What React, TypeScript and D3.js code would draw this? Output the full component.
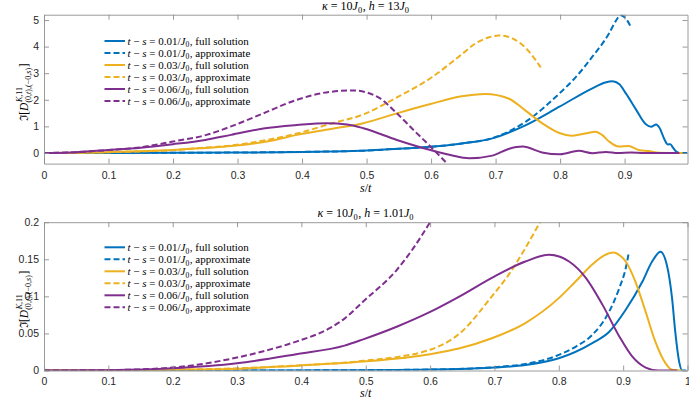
import React, { useEffect, useRef } from 'react';
import * as d3 from 'd3';

type Pt = [number, number];
type Seg = [string, boolean];
type Run = { seg: Seg[]; sup?: Seg[]; sub?: Seg[] };

// kappa = 10 J0, h = 13 J0  (s/t, Im D)
const topFull001: Pt[] = [
  [0, 0], [0.1, 0.002], [0.2, 0.006], [0.3, 0.016], [0.4, 0.04], [0.5, 0.09], [0.55, 0.16],
  [0.6, 0.23], [0.645, 0.35], [0.695, 0.55], [0.747, 1.05], [0.799, 1.74], [0.85, 2.43],
  [0.87, 2.65], [0.881, 2.7], [0.892, 2.58], [0.902, 2.24], [0.918, 1.62], [0.933, 1.08],
  [0.941, 0.99], [0.949, 1.07], [0.954, 0.95], [0.962, 0.5], [0.967, 0.32], [0.971, 0.33],
  [0.975, 0.2], [0.98, 0.05], [0.985, 0], [0.9975, 0],
];
const topApprox001: Pt[] = [
  [0, 0], [0.1, 0.002], [0.2, 0.006], [0.3, 0.016], [0.4, 0.04], [0.5, 0.09], [0.55, 0.16],
  [0.6, 0.23], [0.645, 0.35], [0.7, 0.6], [0.747, 1.18], [0.799, 2.24], [0.825, 2.87],
  [0.85, 3.62], [0.876, 4.5], [0.886, 4.95], [0.894, 5.18], [0.9, 5.1], [0.905, 4.95], [0.909, 4.77],
];
const topFull003: Pt[] = [
  [0, 0], [0.1, 0.03], [0.2, 0.11], [0.25, 0.19], [0.29, 0.26], [0.35, 0.45], [0.392, 0.68],
  [0.444, 0.9], [0.495, 1.12], [0.547, 1.49], [0.599, 1.84], [0.645, 2.12], [0.684, 2.22],
  [0.72, 2.05], [0.746, 1.6], [0.772, 1.12], [0.798, 0.76], [0.819, 0.65], [0.84, 0.74],
  [0.855, 0.8], [0.865, 0.68], [0.876, 0.43], [0.891, 0.24], [0.906, 0.26], [0.922, 0.11],
  [0.937, 0.07], [0.953, 0.01], [0.99, 0],
];
const topApprox003: Pt[] = [
  [0, 0], [0.1, 0.03], [0.2, 0.11], [0.25, 0.2], [0.29, 0.28], [0.35, 0.51], [0.4, 0.78],
  [0.444, 1.1], [0.495, 1.45], [0.547, 2.09], [0.599, 2.81], [0.645, 3.66], [0.669, 4.12],
  [0.69, 4.35], [0.705, 4.42], [0.726, 4.31], [0.747, 3.94], [0.77, 3.22],
];
const topFull006: Pt[] = [
  [0, 0], [0.05, 0.03], [0.1, 0.11], [0.15, 0.2], [0.2, 0.33], [0.25, 0.49], [0.29, 0.68],
  [0.34, 0.92], [0.392, 1.05], [0.438, 1.12], [0.47, 1.07], [0.495, 0.93], [0.547, 0.49],
  [0.599, 0.11], [0.63, -0.08], [0.659, -0.2], [0.695, -0.1], [0.72, 0.15], [0.742, 0.24],
  [0.772, 0.02], [0.8, -0.05], [0.829, 0.08], [0.85, -0.01], [0.871, 0.04], [0.89, 0],
  [0.91, 0.02], [0.93, 0], [0.985, 0],
];
const topApprox006: Pt[] = [
  [0, 0], [0.05, 0.03], [0.1, 0.11], [0.149, 0.21], [0.2, 0.43], [0.252, 0.68], [0.29, 1.0],
  [0.34, 1.49], [0.392, 2.0], [0.444, 2.3], [0.48, 2.35], [0.521, 2.05], [0.547, 1.49],
  [0.573, 0.86], [0.599, 0.24], [0.625, -0.4],
];

// kappa = 10 J0, h = 1.01 J0
const botFull001: Pt[] = [
  [0, 0], [0.3, 0], [0.5, 0.0005], [0.644, 0.002], [0.7, 0.004], [0.748, 0.0074], [0.8, 0.0165],
  [0.852, 0.037], [0.878, 0.052], [0.904, 0.082], [0.93, 0.12], [0.945, 0.147], [0.958, 0.16],
  [0.968, 0.142], [0.976, 0.0975], [0.981, 0.052], [0.987, 0.012], [0.992, 0], [0.998, 0],
];
const botApprox001: Pt[] = [
  [0, 0], [0.3, 0], [0.5, 0.0005], [0.644, 0.002], [0.7, 0.0045], [0.75, 0.009], [0.8, 0.021],
  [0.826, 0.032], [0.852, 0.048], [0.878, 0.079], [0.894, 0.111], [0.904, 0.138], [0.909, 0.16],
];
const botFull003: Pt[] = [
  [0, 0], [0.1, 0.0003], [0.2, 0.001], [0.289, 0.002], [0.392, 0.0065], [0.496, 0.012],
  [0.6, 0.022], [0.646, 0.03], [0.696, 0.0435], [0.748, 0.064], [0.8, 0.0976], [0.826, 0.12],
  [0.852, 0.143], [0.87, 0.155], [0.885, 0.159], [0.895, 0.155], [0.904, 0.147], [0.919, 0.12],
  [0.935, 0.079], [0.95, 0.039], [0.966, 0.0097], [0.976, 0.001], [0.991, 0],
];
const botApprox003: Pt[] = [
  [0, 0], [0.1, 0.0003], [0.2, 0.001], [0.3, 0.003], [0.4, 0.007], [0.496, 0.013], [0.6, 0.028],
  [0.646, 0.05], [0.696, 0.1], [0.722, 0.129], [0.748, 0.165], [0.769, 0.197], [0.771, 0.2],
];
const botFull006: Pt[] = [
  [0, 0], [0.1, 0.0005], [0.2, 0.003], [0.3, 0.0097], [0.392, 0.022], [0.467, 0.0335],
  [0.496, 0.042], [0.548, 0.059], [0.6, 0.079], [0.646, 0.1], [0.696, 0.125], [0.748, 0.147],
  [0.785, 0.156], [0.816, 0.147], [0.842, 0.125], [0.868, 0.0885], [0.894, 0.046],
  [0.914, 0.019], [0.935, 0.004], [0.955, 0], [0.984, 0],
];
const botApprox006: Pt[] = [
  [0, 0], [0.1, 0.0005], [0.2, 0.004], [0.289, 0.0155], [0.341, 0.026], [0.392, 0.039],
  [0.444, 0.057], [0.467, 0.07], [0.496, 0.093], [0.548, 0.1355], [0.574, 0.165], [0.6, 0.2],
];

const gaps = ['0.01', '0.03', '0.06'];
const colors = ['#0072BD', '#EDB120', '#7E2F8E'];
const topXTicks = [0, 0.1, 0.2, 0.3, 0.4, 0.5, 0.6, 0.7, 0.8, 0.9];
const botXTicks = [0, 0.1, 0.2, 0.3, 0.4, 0.5, 0.6, 0.7, 0.8, 0.9, 1];
const topYTicks = [0, 1, 2, 3, 4, 5];
const botYTicks = [0, 0.05, 0.1, 0.15, 0.2];

const W = 689;
const H = 401;
const left = 44;
const right = 687.5;
const serif = '"Liberation Serif", "DejaVu Serif", serif';
const sans = '"Liberation Sans", Arial, sans-serif';
const axisGrey = '#8f8f8f';

// lays out runs of text one after another, with sub/superscripts
const mathText = (parent: any, runs: Run[], size: number, supUp = 0.42, subDown = 0.26) => {
  const g = parent.append('g').attr('fill', '#000');
  let cx = 0;
  const put = (segs: Seg[], px: number, py: number, fs: number) => {
    const t = g
      .append('text')
      .attr('x', px)
      .attr('y', py)
      .style('font-family', serif)
      .style('font-size', fs + 'px');
    segs.forEach(([s, it]) => {
      t.append('tspan').style('font-style', it ? 'italic' : 'normal').text(s);
    });
    return (t.node() as SVGTextElement).getComputedTextLength();
  };
  runs.forEach((r) => {
    cx += put(r.seg, cx, 0, size);
    if (r.sup || r.sub) {
      const w1 = r.sup ? put(r.sup, cx + 0.5, -supUp * size, size * 0.7) : 0;
      const w2 = r.sub ? put(r.sub, cx, subDown * size, size * 0.7) : 0;
      cx += Math.max(w1, w2) + 0.5;
    }
  });
  return { g, width: cx };
};

type PanelCfg = {
  top: number;
  bottom: number;
  xMax: number;
  yDomain: [number, number];
  xTicks: number[];
  yTicks: number[];
  series: Pt[][];
  h: string;
  titleY: number;
  legendY: number;
  xPad: number;
  xLabelY: number;
  id: string;
};

const drawPanel = (svg: any, cfg: PanelCfg) => {
  const x = d3.scaleLinear().domain([0, cfg.xMax]).range([left, right]);
  const y = d3.scaleLinear().domain(cfg.yDomain).range([cfg.bottom, cfg.top]);

  svg
    .append('clipPath')
    .attr('id', cfg.id)
    .append('rect')
    .attr('x', left)
    .attr('y', cfg.top)
    .attr('width', right - left)
    .attr('height', cfg.bottom - cfg.top);

  const line = d3
    .line<Pt>()
    .x((d) => x(d[0]))
    .y((d) => y(d[1]))
    .curve(d3.curveMonotoneX);

  const plot = svg.append('g').attr('clip-path', `url(#${cfg.id})`);
  cfg.series.forEach((data, i) => {
    plot
      .append('path')
      .datum(data)
      .attr('fill', 'none')
      .attr('stroke', colors[Math.floor(i / 2)])
      .attr('stroke-width', 2)
      .attr('stroke-dasharray', i % 2 ? '6,3' : null)
      .attr('d', line);
  });

  const fmt = (v: any) => String(v);
  const axes = svg.append('g');
  axes
    .append('g')
    .attr('transform', `translate(0,${cfg.bottom})`)
    .call(d3.axisBottom(x).tickValues(cfg.xTicks).tickSize(-5).tickSizeOuter(0).tickPadding(cfg.xPad).tickFormat(fmt));
  axes
    .append('g')
    .attr('transform', `translate(0,${cfg.top})`)
    .call(d3.axisTop(x).tickValues(cfg.xTicks).tickSize(-5).tickSizeOuter(0).tickFormat(() => ''));
  axes
    .append('g')
    .attr('transform', `translate(${left},0)`)
    .call(d3.axisLeft(y).tickValues(cfg.yTicks).tickSize(-5).tickSizeOuter(0).tickPadding(5).tickFormat(fmt));
  axes
    .append('g')
    .attr('transform', `translate(${right},0)`)
    .call(d3.axisRight(y).tickValues(cfg.yTicks).tickSize(-5).tickSizeOuter(0).tickFormat(() => ''));
  axes.selectAll('path, line').attr('stroke', axisGrey).attr('stroke-width', 0.9);
  axes
    .selectAll('text')
    .attr('font-family', null)
    .attr('font-size', null)
    .style('font-family', sans)
    .style('font-size', '10.5px')
    .attr('fill', '#262626');

  // title
  const title = mathText(
    svg,
    [
      { seg: [['κ', true], [' = 10', false], ['J', true]], sub: [['0', false]] },
      { seg: [[', ', false], ['h', true], [` = ${cfg.h}`, false], ['J', true]], sub: [['0', false]] },
    ],
    12
  );
  title.g.attr('transform', `translate(${(left + right) / 2 - title.width / 2},${cfg.titleY})`);

  // x label
  const xl = mathText(svg, [{ seg: [['s', true], ['/', false], ['t', true]] }], 12);
  xl.g.attr('transform', `translate(${(left + right) / 2 - xl.width / 2},${cfg.xLabelY})`);

  // y label
  const yl = mathText(
    svg,
    [
      {
        seg: [['ℑ[', false], ['D', true]],
        sup: [['K', true], [',11', false]],
        sub: [['(0,', false], ['t', true], ['),(−0,', false], ['s', true], [')', false]],
      },
      { seg: [[']', false]] },
    ],
    11.5,
    0.55,
    0.24
  );
  const cy = (cfg.top + cfg.bottom) / 2 + 3;
  yl.g.attr('transform', `translate(28,${cy}) rotate(-90) translate(${-yl.width / 2},0)`);

  // legend
  const leg = svg.append('g');
  cfg.series.forEach((_, i) => {
    const ry = cfg.legendY + i * 12;
    leg
      .append('line')
      .attr('x1', 104.5)
      .attr('x2', 125)
      .attr('y1', ry)
      .attr('y2', ry)
      .attr('stroke', colors[Math.floor(i / 2)])
      .attr('stroke-width', 2)
      .attr('stroke-dasharray', i % 2 ? '6,3' : null);
    const lt = mathText(
      leg,
      [
        {
          seg: [['t', true], [' − ', false], ['s', true], [` = ${gaps[Math.floor(i / 2)]}/`, false], ['J', true]],
          sub: [['0', false]],
        },
        { seg: [[i % 2 ? ', approximate' : ', full solution', false]] },
      ],
      11
    );
    lt.g.attr('transform', `translate(127.5,${ry + 3.5})`);
  });
};

const App = () => {
  const ref = useRef<HTMLDivElement>(null);

  useEffect(() => {
    const root = d3.select(ref.current);
    root.select('svg').remove();
    const svg = root
      .append('svg')
      .attr('width', W)
      .attr('height', H)
      .style('position', 'absolute')
      .style('left', '0px')
      .style('top', '0px')
      .style('background', '#fff');

    drawPanel(svg, {
      top: 14.7,
      bottom: 163.6,
      xMax: 0.9975,
      yDomain: [-0.4, 5.2],
      xTicks: topXTicks,
      yTicks: topYTicks,
      series: [topFull001, topApprox001, topFull003, topApprox003, topFull006, topApprox006],
      h: '13',
      titleY: 9.5,
      legendY: 41,
      xPad: 7.5,
      xLabelY: 191.5,
      id: 'clip-top',
    });
    drawPanel(svg, {
      top: 222.2,
      bottom: 370.5,
      xMax: 1,
      yDomain: [0, 0.2],
      xTicks: botXTicks,
      yTicks: botYTicks,
      series: [botFull001, botApprox001, botFull003, botApprox003, botFull006, botApprox006],
      h: '1.01',
      titleY: 216.5,
      legendY: 247.3,
      xPad: 7.5,
      xLabelY: 397,
      id: 'clip-bot',
    });
  }, []);

  return <div ref={ref}></div>;
};

export default App;
